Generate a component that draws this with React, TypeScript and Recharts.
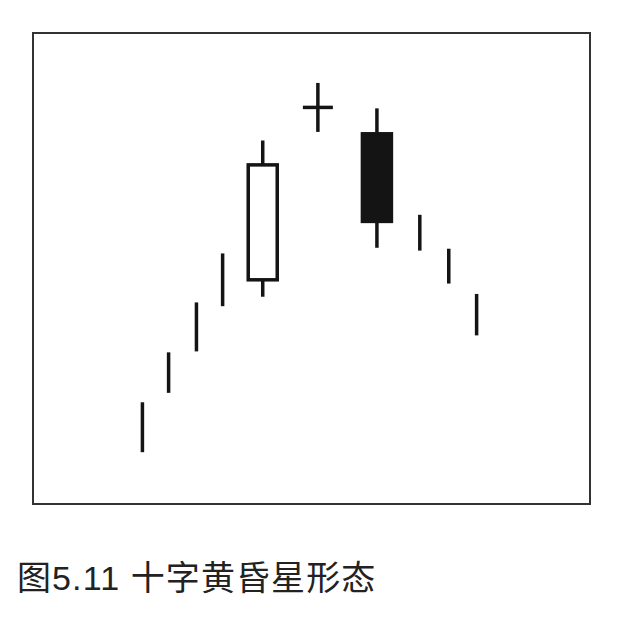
import { ComposedChart, Bar, XAxis, YAxis, ReferenceArea } from "recharts"

// x position of each candle along the session axis (0-100)
const positions = [19.7, 24.4, 29.4, 34.1, 41.3, 51.2, 61.8, 69.5, 74.7, 79.7]
const highs = [10.8, 16.1, 21.4, 26.6, 38.6, 44.7, 42.0, 30.7, 27.1, 22.3]
const lows = [5.5, 11.8, 16.2, 21.0, 22.0, 39.5, 27.2, 26.9, 23.4, 17.9]
// null = no visible body (drawn as a plain line)
const opens: (number | null)[] = [null, null, null, null, 23.8, 42.1, 39.3, null, null, null]
const closes: (number | null)[] = [null, null, null, null, 36.0, 42.1, 30.0, null, null, null]

const data = positions.map((x, i) => ({
  x,
  range: [lows[i], highs[i]],
  high: highs[i],
  low: lows[i],
  open: opens[i],
  close: closes[i],
}))

const INK = "#141414"

function Candle(props: any) {
  const { x, y, width, height, payload } = props
  const cx = x + width / 2
  const { high, low, open, close } = payload
  const toPx = (v: number) => y + ((high - v) / (high - low)) * height

  if (open == null || close == null) {
    return <line x1={cx} x2={cx} y1={y} y2={y + height} stroke={INK} strokeWidth={3.5} />
  }
  if (open === close) {
    const py = toPx(open)
    return (
      <g>
        <line x1={cx} x2={cx} y1={y} y2={y + height} stroke={INK} strokeWidth={3.5} />
        <line x1={cx - 15} x2={cx + 15} y1={py} y2={py} stroke={INK} strokeWidth={3.5} />
      </g>
    )
  }
  const top = toPx(Math.max(open, close))
  const bottom = toPx(Math.min(open, close))
  const bw = 29
  return (
    <g>
      <line x1={cx} x2={cx} y1={y} y2={y + height} stroke={INK} strokeWidth={3.5} />
      <rect
        x={cx - bw / 2}
        y={top}
        width={bw}
        height={bottom - top}
        fill={close > open ? "#fff" : INK}
        stroke={INK}
        strokeWidth={3.5}
      />
    </g>
  )
}

export default function App() {
  return (
    <div style={{ position: "absolute", left: 0, top: 0, width: 634, height: 622, background: "#fff" }}>
      <ComposedChart
        width={634}
        height={520}
        data={data}
        margin={{ top: 33, right: 44, bottom: 16, left: 33 }}
      >
        <XAxis dataKey="x" type="number" domain={[0, 100]} hide />
        <YAxis type="number" domain={[0, 50]} hide />
        <ReferenceArea x1={0} x2={100} y1={0} y2={50} fill="none" stroke="#333" strokeWidth={2} ifOverflow="visible" />
        <Bar dataKey="range" barSize={32} shape={<Candle />} isAnimationActive={false} />
      </ComposedChart>
      <div
        style={{
          position: "absolute",
          left: 17,
          top: 558,
          fontSize: 34,
          lineHeight: "40px",
          letterSpacing: 1.1,
          color: "#222",
          fontFamily: "'Liberation Sans', 'Noto Sans CJK SC', sans-serif",
          whiteSpace: "nowrap",
        }}
      >
        图5.11 十字黄昏星形态
      </div>
    </div>
  )
}
